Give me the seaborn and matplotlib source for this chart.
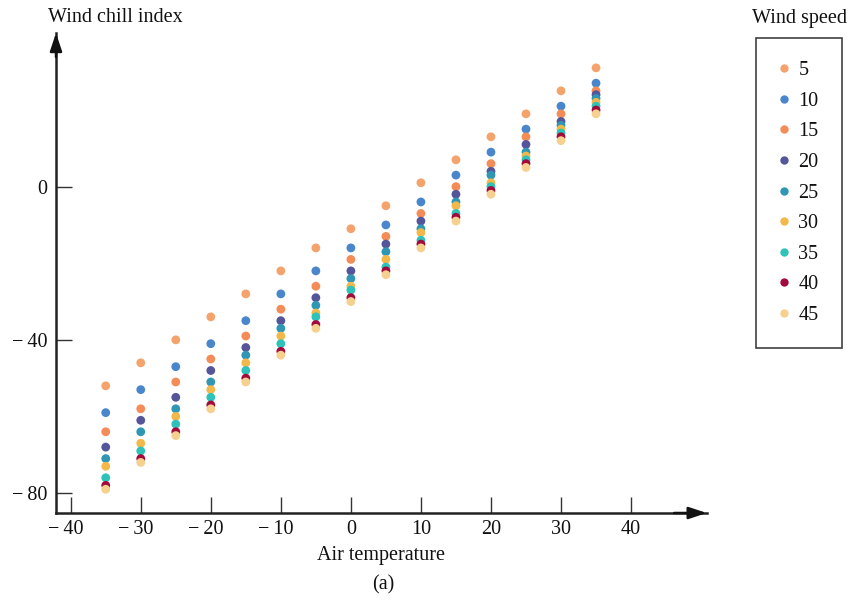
import matplotlib
matplotlib.use("Agg")
import matplotlib.pyplot as plt
import matplotlib.transforms as mtransforms
import seaborn as sns
import pandas as pd

# ---- data ----
air_temps = [-35, -30, -25, -20, -15, -10, -5, 0, 5, 10, 15, 20, 25, 30, 35]
wind_speeds = [5, 10, 15, 20, 25, 30, 35, 40, 45]
wc_5 = [-52, -46, -40, -34, -28, -22, -16, -11, -5, 1, 7, 13, 19, 25, 31]
wc_10 = [-59, -53, -47, -41, -35, -28, -22, -16, -10, -4, 3, 9, 15, 21, 27]
wc_15 = [-64, -58, -51, -45, -39, -32, -26, -19, -13, -7, 0, 6, 13, 19, 25]
wc_20 = [-68, -61, -55, -48, -42, -35, -29, -22, -15, -9, -2, 4, 11, 17, 24]
wc_25 = [-71, -64, -58, -51, -44, -37, -31, -24, -17, -11, -4, 3, 9, 16, 23]
wc_30 = [-73, -67, -60, -53, -46, -39, -33, -26, -19, -12, -5, 1, 8, 15, 22]
wc_35 = [-76, -69, -62, -55, -48, -41, -34, -27, -21, -14, -7, 0, 7, 14, 21]
wc_40 = [-78, -71, -64, -57, -50, -43, -36, -29, -22, -15, -8, -1, 6, 13, 20]
wc_45 = [-79, -72, -65, -58, -51, -44, -37, -30, -23, -16, -9, -2, 5, 12, 19]
x_ticks = [-40, -30, -20, -10, 0, 10, 20, 30, 40]
y_ticks = [-80, -40, 0]

series = [wc_5, wc_10, wc_15, wc_20, wc_25, wc_30, wc_35, wc_40, wc_45]
rows = []
for ws, vals in zip(wind_speeds, series):
    for t, v in zip(air_temps, vals):
        rows.append({"Air temperature": t, "Wind chill index": v, "Wind speed": str(ws)})
df = pd.DataFrame(rows)

palette = ["#F5A36C", "#4A86CB", "#F48C58", "#55559A", "#2F96B4",
           "#F3B84A", "#2EC2B9", "#A20A3C", "#F5D08E"]
hue_order = [str(w) for w in wind_speeds]

sns.set_theme(style="white")
plt.rcParams["font.family"] = ["Liberation Serif", "DejaVu Serif"]

FS = 14.5
TXT = "#111111"

fig = plt.figure(figsize=(8.55, 6.01), dpi=100)
ax = fig.add_axes([56 / 855, 1 - 513 / 601, (706.7 - 56) / 855, (513 - 33) / 601])

sns.scatterplot(data=df, x="Air temperature", y="Wind chill index", hue="Wind speed",
                hue_order=hue_order, palette=palette,
                s=40, linewidth=0, ax=ax, legend=False, zorder=3)

ax.set_xlim(-42.1, 50.8)
ax.set_ylim(-85.2, 40.1)


def fmt(v):
    return ("\u2212\u2009" + str(abs(v))) if v < 0 else str(v)


ax.set_xticks(x_ticks)
ax.set_yticks(y_ticks)
ax.set_xticklabels([fmt(v) for v in x_ticks])
ax.set_yticklabels([fmt(v) for v in y_ticks])
ax.tick_params(axis="both", which="major", bottom=True, left=True, direction="in",
               length=11.5, width=1.0, color="#333333", labelsize=FS, labelcolor=TXT)
ax.tick_params(axis="x", pad=5)
ax.tick_params(axis="y", pad=6)

# centre the digits of negative x labels under their ticks (minus hangs left)
shift = mtransforms.ScaledTranslation(-5 / 100, 0, fig.dpi_scale_trans)
for v, lab in zip(x_ticks, ax.get_xticklabels()):
    if v < 0:
        lab.set_transform(lab.get_transform() + shift)

for s in ["top", "right"]:
    ax.spines[s].set_visible(False)
for s in ["left", "bottom"]:
    ax.spines[s].set_linewidth(1.8)
    ax.spines[s].set_color("#222222")

# arrowheads
arrow = dict(arrowstyle="-|>,head_length=0.9,head_width=0.3",
             color="#111111", lw=1.8, shrinkA=0, shrinkB=0)
ax.annotate("", xy=(1.0, 0), xycoords="axes fraction", xytext=(0.95, 0),
            arrowprops=arrow, annotation_clip=False)
ax.annotate("", xy=(0, 1.0), xycoords="axes fraction", xytext=(0, 0.95),
            arrowprops=arrow, annotation_clip=False)

ax.set_xlabel("Air temperature", fontsize=FS, labelpad=5, color=TXT)
ax.set_ylabel("")
fig.text(48 / 855, 1 - 17 / 601, "Wind chill index", fontsize=FS, ha="left", va="center",
         color=TXT)
fig.text(383 / 855, 1 - 585 / 601, "(a)", fontsize=FS, ha="center", va="center", color=TXT)

# legend
handles = [plt.Line2D([], [], linestyle="none", marker="o", markersize=6.0,
                      markerfacecolor=c, markeredgewidth=0) for c in palette]
leg = ax.legend(handles, hue_order, loc="upper left",
                bbox_to_anchor=(756 / 855, 1 - 38 / 601), bbox_transform=fig.transFigure,
                frameon=True, fontsize=FS, borderpad=1.15, labelspacing=0.57,
                handlelength=0.46, handletextpad=0.5, borderaxespad=0, fancybox=False)
leg.get_frame().set_edgecolor("#111111")
leg.get_frame().set_linewidth(1.2)
for t in leg.get_texts():
    t.set_color(TXT)
fig.text(799 / 855, 1 - 18 / 601, "Wind speed", fontsize=FS, ha="center", va="center",
         color=TXT)

fig.savefig("out.png", dpi=100)
